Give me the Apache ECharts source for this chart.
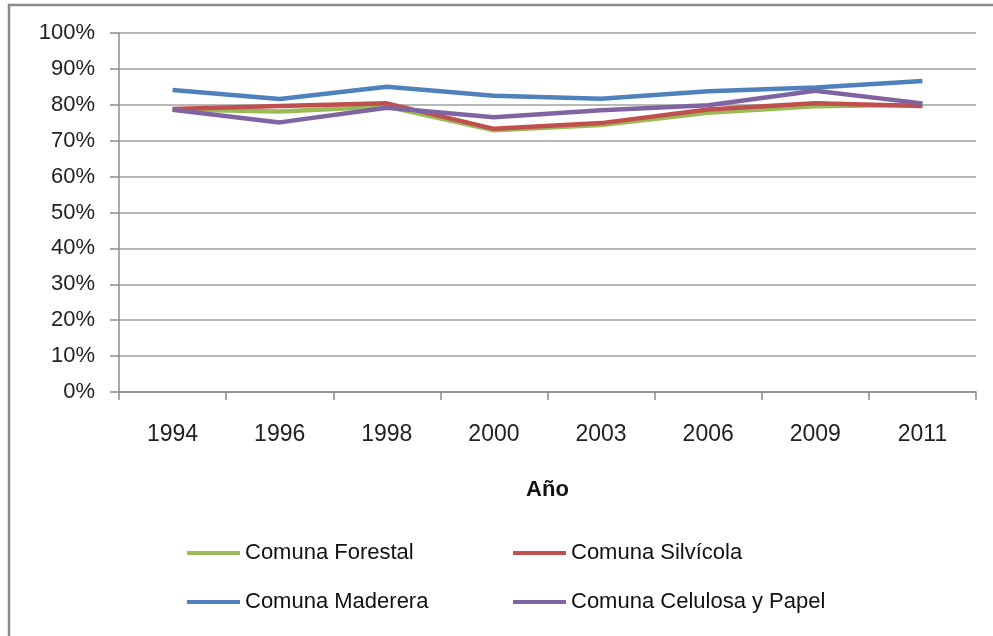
<!DOCTYPE html>
<html>
<head>
<meta charset="utf-8">
<script src="https://cdn.jsdelivr.net/npm/echarts@6/dist/echarts.min.js"></script>
<style>
html,body{margin:0;padding:0;background:#fff;}
#c{width:993px;height:636px;}
</style>
</head>
<body>
<div id="c"></div>
<script>
const years = ['1994','1996','1998','2000','2003','2006','2009','2011'];
const forestal  = [78.7, 78.1, 79.5, 72.9, 74.4, 77.8, 79.6, 80.0];
const silvicola = [78.8, 79.7, 80.4, 73.3, 74.9, 78.7, 80.4, 79.7];
const maderera  = [84.1, 81.6, 85.0, 82.5, 81.7, 83.8, 84.8, 86.6];
const celulosa  = [78.6, 75.1, 79.2, 76.5, 78.5, 79.9, 83.9, 80.4];
const seriesNames = ['Comuna Forestal','Comuna Silvícola','Comuna Maderera','Comuna Celulosa y Papel'];
const colors = ['#9BBB59','#C0504D','#4F81BD','#8064A2'];
const FONT = '"Liberation Sans", Arial, sans-serif';

const chart = echarts.init(document.getElementById('c'));
const dataSets = [forestal, silvicola, maderera, celulosa];
const legendText = {fontFamily: FONT, fontSize: 22, color: '#111'};
chart.setOption({
  animation: false,
  backgroundColor: '#fff',
  color: colors,
  graphic: [{
    type: 'rect', shape: {x: 9, y: 5, width: 1010, height: 700},
    style: {fill: 'none', stroke: '#8a8a8a', lineWidth: 2.5}, silent: true
  }],
  grid: {left: 119, right: 17, top: 33, bottom: 244},
  legend: [{
    data: [seriesNames[0], seriesNames[2]],
    orient: 'vertical', left: 182, top: 537, itemGap: 27,
    icon: 'rect', itemWidth: 53, itemHeight: 4,
    textStyle: legendText
  }, {
    data: [seriesNames[1], seriesNames[3]],
    orient: 'vertical', left: 508, top: 537, itemGap: 27,
    icon: 'rect', itemWidth: 53, itemHeight: 4,
    textStyle: legendText
  }],
  xAxis: {
    type: 'category', data: years, boundaryGap: true,
    name: 'Año', nameLocation: 'middle', nameGap: 87,
    nameTextStyle: {fontFamily: FONT, fontSize: 22, fontWeight: 'bold', color: '#111'},
    axisLine: {lineStyle: {color: '#8c8c8c', width: 1.5}},
    axisTick: {show: true, length: 8, lineStyle: {color: '#8c8c8c', width: 1.5}},
    axisLabel: {fontFamily: FONT, fontSize: 23, color: '#222', margin: 31}
  },
  yAxis: {
    type: 'value', min: 0, max: 100, interval: 10,
    axisLine: {show: true, lineStyle: {color: '#8c8c8c', width: 1.5}},
    axisTick: {show: true, length: 9, lineStyle: {color: '#8c8c8c', width: 1.5}},
    splitLine: {lineStyle: {color: '#a0a0a0', width: 1.5}},
    axisLabel: {fontFamily: FONT, fontSize: 22, color: '#222', margin: 24, formatter: '{value}%'}
  },
  series: dataSets.map((d, i) => ({
    name: seriesNames[i], type: 'line', data: d,
    symbol: 'none', lineStyle: {width: 4.5, color: colors[i]},
    itemStyle: {color: colors[i]}
  }))
});
</script>
</body>
</html>
